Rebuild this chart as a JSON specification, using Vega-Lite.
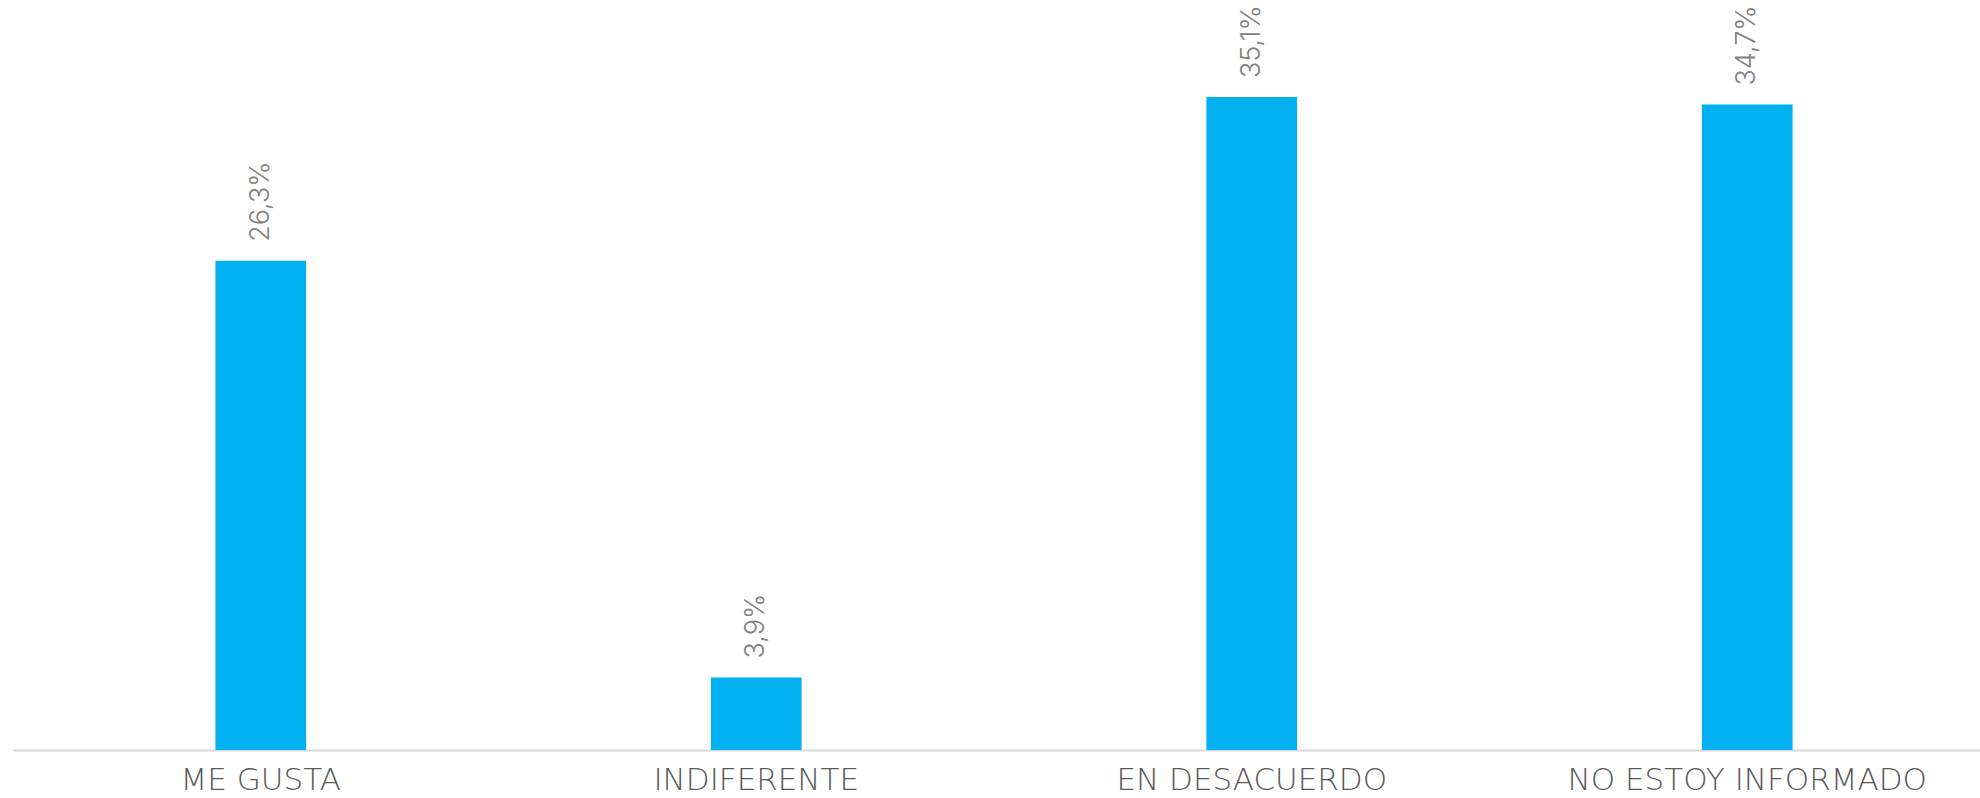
{
  "$schema": "https://vega.github.io/schema/vega-lite/v6.json",
  "width": 1982,
  "height": 750,
  "autosize": {"type": "none"},
  "padding": {"left": 13, "top": 0, "right": 0, "bottom": 48},
  "background": "white",
  "config": {"view": {"stroke": null}},
  "data": {
    "values": [
      {"categoria": "ME GUSTA", "valor": 26.3, "etiqueta": "26,3%"},
      {"categoria": "INDIFERENTE", "valor": 3.9, "etiqueta": "3,9%"},
      {"categoria": "EN DESACUERDO", "valor": 35.1, "etiqueta": "35,1%"},
      {"categoria": "NO ESTOY INFORMADO", "valor": 34.7, "etiqueta": "34,7%"}
    ]
  },
  "encoding": {
    "x": {
      "field": "categoria",
      "type": "nominal",
      "sort": null,
      "scale": {"paddingInner": 0, "paddingOuter": 0},
      "axis": {
        "title": null,
        "ticks": false,
        "labelAngle": 0,
        "labelLimit": 0,
        "labelFont": "DejaVu Sans",
        "labelFontWeight": 200,
        "labelFontSize": 31,
        "labelColor": "#595959",
        "labelPadding": 15,
        "domainColor": "#d9d9d9",
        "domainWidth": 2,
        "grid": false
      }
    },
    "y": {
      "field": "valor",
      "type": "quantitative",
      "scale": {"domain": [0, 40.32], "nice": false},
      "axis": null
    }
  },
  "layer": [
    {
      "mark": {"type": "bar", "color": "#00b0f0", "width": {"band": 0.183}}
    },
    {
      "mark": {
        "type": "text",
        "angle": -90,
        "align": "left",
        "baseline": "middle",
        "dx": 19,
        "font": "Inter",
        "fontWeight": 300,
        "fontSize": 27,
        "color": "#808080"
      },
      "encoding": {"text": {"field": "etiqueta"}}
    }
  ]
}
